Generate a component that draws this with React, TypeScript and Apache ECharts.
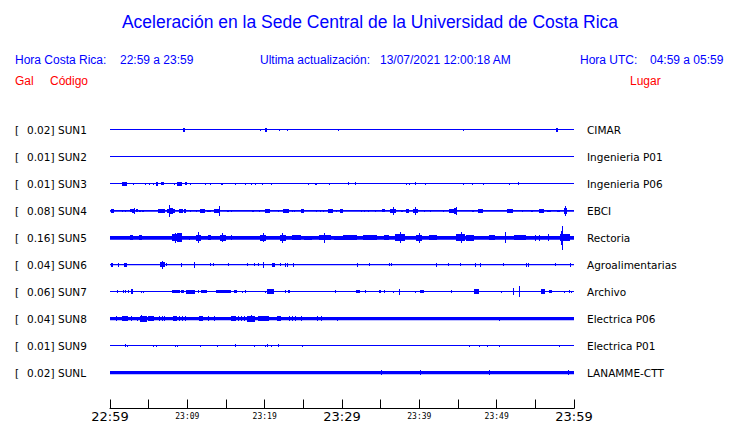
import React, { useEffect, useRef } from "react";
import * as echarts from "echarts";

// ---------------- data ----------------
const stationCodes = ["SUN1", "SUN2", "SUN3", "SUN4", "SUN5", "SUN6", "SUN7", "SUN8", "SUN9", "SUNL"];
const stationPlaces = [
  "CIMAR",
  "Ingenieria P01",
  "Ingenieria P06",
  "EBCI",
  "Rectoria",
  "Agroalimentarias",
  "Archivo",
  "Electrica P06",
  "Electrica P01",
  "LANAMME-CTT",
];
const peakGal = [0.02, 0.01, 0.01, 0.08, 0.16, 0.04, 0.06, 0.04, 0.01, 0.02];
const timeTickLabels = ["22:59", "23:09", "23:19", "23:29", "23:39", "23:49", "23:59"];
const windowMinutes = 60;

// bursts: [minute after 22:59, half amplitude (trace units), duration (minutes)]
const sun1Bursts = [
  [9.57, 1.7, 0.25], [19.4, 1, 0], [20.2, 1.7, 0.25], [21.9, 1.3, 0], [22.9, 1.3, 0],
  [29.5, 1, 0], [45.7, 1, 0], [57.8, 1.7, 0.25],
];
const sun2Bursts: number[][] = [];
const sun3Bursts = [
  [1.9, 1.7, 0.7], [3.06, 1.3, 0], [4.57, 1.3, 0], [5.09, 1, 0], [5.65, 1.3, 0], [6.08, 1.7, 0.3],
  [6.85, 1.5, 0.35], [8.32, 1, 0], [9.05, 1.7, 0.7], [9.83, 1.5, 0.3], [10.39, 1.3, 0], [12.41, 1, 0],
  [13.06, 1.3, 0], [14.53, 1.3, 0.3], [16.29, 1.3, 0], [17.46, 1.3, 0], [18.36, 1, 0], [18.79, 1.3, 0],
  [19.7, 1, 0], [20.82, 1.3, 0], [25.65, 1, 0], [26.64, 1.3, 0.3], [28.36, 1, 0], [30.82, 1.5, 0],
  [31.81, 1.5, 0], [38.32, 1.3, 0], [38.71, 1, 0], [39.44, 1.5, 0], [40.86, 1.3, 0], [45.69, 1.3, 0],
  [46.85, 1, 0], [48.28, 1.3, 0], [51.64, 1, 0], [52.8, 1.5, 0],
];
const sun4Bursts = [
  [0.3, 1.7, 0.43], [1.64, 1, 0], [1.94, 1, 0], [2.67, 1.5, 0.2], [3.02, 2, 0.3], [3.23, 3, 0],
  [3.45, 1.5, 0.2], [3.88, 1, 0.2], [4.31, 1, 0.2], [6.68, 1.7, 0.86], [7.46, 2.3, 0.3], [7.67, 6.3, 0],
  [7.97, 3, 0.4], [8.28, 1.7, 0.2], [9.14, 2.3, 0.5], [9.7, 1.7, 0.3], [10.43, 1, 0], [11.21, 1, 0],
  [11.98, 2.3, 0.7], [12.85, 1.3, 0.5], [13.79, 2.3, 0.6], [14.1, 5, 0], [15.3, 1.3, 0.3], [15.73, 1, 0],
  [18.53, 1.3, 0.3], [19.31, 1, 0], [20.39, 2.3, 0.6], [21.85, 1, 0], [22.76, 2.3, 0.8], [23.62, 1, 0],
  [23.92, 1, 0], [24.83, 1.7, 0.4], [26.72, 1.3, 0], [27.16, 1.3, 0], [27.67, 1, 0], [28.45, 1.7, 0.6],
  [29.31, 1.3, 0], [29.96, 1.7, 0.4], [32.46, 1, 0], [32.85, 1, 0], [33.4, 1, 0], [34.27, 1.3, 0],
  [35.43, 1.5, 0.4], [36.64, 2.3, 0.8], [36.7, 3.7, 0.1], [37.72, 1.3, 0.3], [38.49, 1.7, 0.4],
  [39.44, 2.3, 0.6], [39.5, 4.3, 0], [40.73, 1, 0], [41.38, 1, 0], [43.1, 1, 0], [44.18, 2, 0.6],
  [44.74, 2.7, 0.4], [44.8, 4, 0], [46.9, 1.3, 0.3], [47.93, 1.7, 0.6], [51.72, 1.7, 0.8], [53.32, 1, 0],
  [54.57, 1.3, 0.3], [55.82, 1.7, 0.6], [56.72, 1.3, 0.5], [57.97, 1.3, 0.4], [58.88, 2.7, 0.4],
  [58.9, 5, 0],
];
const sun5Bursts = [
  [2.72, 2.7, 0.4], [3.88, 2.7, 0.4], [8.41, 3.3, 0.8], [8.45, 5, 0.1], [9.05, 4.5, 0.6], [10.26, 2, 0],
  [11.42, 3, 0.6], [11.45, 5.3, 0], [12.93, 2.3, 0.4], [14.57, 3, 0.8], [14.6, 4.7, 0], [15.73, 2.3, 0],
  [16.38, 1.7, 0], [19.74, 3, 0.8], [19.8, 4.7, 0], [22.33, 3, 0.8], [22.36, 5, 0], [24.14, 2.3, 1.2],
  [25.65, 2, 1.0], [27.8, 2.3, 1.5], [27.8, 5, 0], [29.83, 2, 1.8], [31.03, 2.3, 1.8], [33.62, 2.3, 1.8],
  [35.78, 2.3, 0.6], [37.5, 3.3, 1.3], [37.55, 5.3, 0.1], [39.96, 3, 0.8], [39.98, 5, 0], [41.81, 2.3, 1],
  [45.35, 3.3, 1.1], [45.4, 5.3, 0.1], [46.55, 3, 1], [49.35, 2.3, 0.8], [51.16, 5.5, 0], [53.02, 2.3, 1.6],
  [54.96, 3, 0], [55.48, 3, 0], [56.68, 3.3, 0], [58.84, 3.3, 1.3], [58.41, 7, 0.3], [58.45, 12, 0],
];
const sun6Bursts = [
  [0.3, 2, 0.2], [1.16, 2, 0], [2.03, 2, 0.4], [6.81, 2.3, 0.6], [6.85, 4, 0], [7.37, 1.7, 0], [9.31, 2, 0],
  [10.99, 3, 0], [13.06, 1.7, 0], [13.36, 1.7, 0], [15.35, 1.7, 0], [17.8, 1.7, 0], [18.66, 1.7, 0],
  [19.18, 1.7, 0], [19.87, 3, 0], [21.12, 2, 0.4], [22.07, 1.7, 0], [22.67, 2, 0], [22.97, 2, 0],
  [23.79, 2, 0], [32.03, 2, 0], [33.54, 1.7, 0], [36.12, 1.7, 0], [36.42, 1.7, 0], [42.24, 2, 0],
  [43.75, 1.7, 0], [45.26, 1.7, 0], [47.2, 2, 0], [47.85, 2, 0], [50.86, 1.3, 0], [53.88, 2, 0],
  [54.18, 2, 0], [57.55, 1.7, 0], [59.61, 2, 0],
];
const sun7Bursts = [
  [0.99, 1.7, 0], [1.72, 1.7, 0], [2.03, 1.7, 0], [2.37, 1.7, 0], [2.8, 2.3, 0.3], [4.1, 1, 0], [4.31, 1, 0],
  [8.49, 1.7, 1], [9.35, 1.7, 0.4], [10.47, 2, 1.2], [11.42, 1.3, 0], [12.11, 1.7, 0.8], [14.66, 1.7, 1.9],
  [16.29, 1.7, 0.4], [17.11, 1, 0], [17.54, 1.3, 0], [20.17, 1, 0], [20.78, 2.7, 0.9], [22.67, 1.3, 0],
  [23.19, 1.7, 0.3], [29.1, 1.7, 0], [32.11, 1.7, 0.5], [32.98, 1.7, 0], [34.96, 1.7, 0.3], [35.48, 1.3, 0],
  [36.64, 1, 0], [37.46, 3, 0], [39.53, 1, 0], [40.39, 1.7, 0.5], [44.22, 1.7, 0], [47.41, 2.7, 0.7],
  [50.6, 1, 0], [52.2, 3.3, 0], [52.93, 5.3, 0], [56.04, 2.3, 0.5], [56.94, 1.7, 0.4], [58.75, 1, 0],
  [59.4, 1.3, 0], [59.7, 1, 0],
];
const sun8Bursts = [
  [0.86, 2.3, 0], [1.9, 2.7, 0.8], [2.8, 2.3, 0], [3.58, 2, 0], [4.31, 3, 0.9], [4.1, 3.7, 0],
  [5.34, 2.7, 0.8], [6.38, 2.3, 0], [6.77, 2.3, 0], [7.11, 2.7, 0], [8.41, 2.7, 0.5], [9.05, 2.3, 0],
  [9.35, 2.3, 0], [9.78, 2.7, 0], [11.77, 2.7, 0.5], [12.72, 2.3, 0], [13.45, 2.7, 0], [15.95, 2.7, 0.7],
  [16.6, 2.3, 0], [17.03, 2.3, 0], [17.37, 2.3, 0], [18.23, 3, 1.0], [18.3, 3.7, 0], [19.18, 2.3, 0],
  [19.96, 2.7, 1.3], [21.85, 2.7, 0.5], [23.19, 2.3, 0], [23.58, 2.3, 0], [24.01, 2.3, 0], [24.7, 2.3, 0],
  [26.81, 2.3, 0], [27.41, 2.7, 0], [29.4, 2, 0], [50.35, 2, 0],
];
const sun9Bursts = [
  [1.94, 1.7, 0], [2.24, 1, 0], [5.6, 1, 0], [5.95, 1, 0], [8.49, 1, 0], [8.75, 1, 0], [11.68, 1, 0],
  [13.92, 1, 0], [16.29, 1.3, 0], [18.66, 1, 0], [20.17, 1, 0], [20.39, 1.3, 0], [20.82, 1, 0],
  [21.77, 1.3, 0], [24.87, 1, 0], [46.47, 1, 0], [47.76, 1, 0], [48.79, 1, 0], [50.35, 1, 0], [58.1, 1, 0],
];
const sunLBursts = [[35.09, 2.3, 0], [40.13, 2.3, 0], [49.05, 2.3, 0], [59.27, 2.3, 0]];

const burstsByStation = [
  sun1Bursts, sun2Bursts, sun3Bursts, sun4Bursts, sun5Bursts,
  sun6Bursts, sun7Bursts, sun8Bursts, sun9Bursts, sunLBursts,
];

// ---------------- styles ----------------
const BLUE = "#0000ff";
const RED = "#ff0000";
const traceThickness = [1, 1, 1, 1.7, 3.7, 1.3, 1, 3.3, 1, 3.3];
const ROW_SPACING_PX = 27; // trace amplitude units per row
const headerFont = "'Liberation Sans', Arial, sans-serif";

export default function App() {
  const ref = useRef<HTMLDivElement>(null);

  useEffect(() => {
    document.body.style.margin = "0";
    if (!ref.current) return;
    const chart = echarts.init(ref.current, null, { renderer: "svg" });

    const baselineData = stationCodes.map((_, i) => [0, i, traceThickness[i]]);
    const burstData: number[][] = [];
    burstsByStation.forEach((list, row) => {
      list.forEach((b) => burstData.push([b[0], row, b[1], b[2]]));
    });

    const yMax = 10 + 1 / 3;

    const option: any = {
      animation: false,
      backgroundColor: "#ffffff",
      grid: { left: 110, right: 166, top: 103, bottom: 14, containLabel: false },
      xAxis: {
        type: "value",
        min: 0,
        max: windowMinutes,
        interval: 5,
        axisLine: { show: true, onZero: false, lineStyle: { color: "#000", width: 1 } },
        axisTick: { show: true, inside: true, length: 9, lineStyle: { color: "#000", width: 1 } },
        splitLine: { show: false },
        axisLabel: {
          show: true,
          interval: 0,
          margin: 1,
          showMinLabel: true,
          showMaxLabel: true,
          formatter: (v: number) => {
            if (Math.round(v) % 10 !== 0) return "";
            const idx = Math.round(v) / 10;
            const txt = timeTickLabels[idx];
            if (txt === undefined) return "";
            return idx % 3 === 0 ? `{big|${txt}}` : `{small|${txt}}`;
          },
          rich: {
            big: { fontFamily: "'DejaVu Sans'", fontSize: 13, color: "#000", lineHeight: 14 },
            small: { fontFamily: "'DejaVu Sans Mono'", fontSize: 8, color: "#000", lineHeight: 13 },
          },
        },
      },
      yAxis: [
        {
          type: "value",
          inverse: true,
          min: -1,
          max: yMax,
          interval: 1,
          axisLine: { show: false },
          axisTick: { show: false },
          splitLine: { show: false },
          axisLabel: {
            show: true,
            align: "left",
            margin: 95,
            showMinLabel: true,
            showMaxLabel: true,
            formatter: (v: number) => {
              const i = Math.round(v);
              if (i < 0 || i >= stationCodes.length) return "";
              return `{a|[}{b|${peakGal[i].toFixed(2)}]}{c|${stationCodes[i]}}`;
            },
            rich: {
              a: { fontFamily: "'DejaVu Sans'", fontSize: 10.5, color: "#000", width: 12 },
              b: { fontFamily: "'DejaVu Sans'", fontSize: 10.5, color: "#000", width: 31 },
              c: { fontFamily: "'DejaVu Sans'", fontSize: 10.5, color: "#000" },
            },
          },
        },
        {
          type: "value",
          position: "right",
          inverse: true,
          min: -1,
          max: yMax,
          interval: 1,
          axisLine: { show: false },
          axisTick: { show: false },
          splitLine: { show: false },
          axisLabel: {
            show: true,
            align: "left",
            margin: 13,
            fontFamily: "'DejaVu Sans'",
            fontSize: 10.5,
            color: "#000",
            formatter: (v: number) => {
              const i = Math.round(v);
              if (i < 0 || i >= stationPlaces.length) return "";
              return stationPlaces[i];
            },
          },
        },
      ],
      graphic: [
        {
          type: "text",
          left: "center",
          top: 13,
          style: {
            text: "Aceleración en la Sede Central de la Universidad de Costa Rica",
            fill: BLUE,
            font: `17.5px ${headerFont}`,
          },
        },
        { type: "text", x: 15, y: 60, style: { text: "Hora Costa Rica:", fill: BLUE, font: `12px ${headerFont}`, textVerticalAlign: "middle" } },
        { type: "text", x: 120, y: 60, style: { text: "22:59 a 23:59", fill: BLUE, font: `12px ${headerFont}`, textVerticalAlign: "middle" } },
        { type: "text", x: 260, y: 60, style: { text: "Ultima actualización:", fill: BLUE, font: `12px ${headerFont}`, textVerticalAlign: "middle" } },
        { type: "text", x: 380, y: 60, style: { text: "13/07/2021 12:00:18 AM", fill: BLUE, font: `12px ${headerFont}`, textVerticalAlign: "middle" } },
        { type: "text", x: 580, y: 60, style: { text: "Hora UTC:", fill: BLUE, font: `12px ${headerFont}`, textVerticalAlign: "middle" } },
        { type: "text", x: 650, y: 60, style: { text: "04:59 a 05:59", fill: BLUE, font: `12px ${headerFont}`, textVerticalAlign: "middle" } },
        { type: "text", x: 15, y: 81, style: { text: "Gal", fill: RED, font: `12px ${headerFont}`, textVerticalAlign: "middle" } },
        { type: "text", x: 50, y: 81, style: { text: "Código", fill: RED, font: `12px ${headerFont}`, textVerticalAlign: "middle" } },
        { type: "text", x: 630, y: 81, style: { text: "Lugar", fill: RED, font: `12px ${headerFont}`, textVerticalAlign: "middle" } },
      ],
      series: [
        {
          type: "custom",
          name: "traces",
          xAxisIndex: 0,
          yAxisIndex: 0,
          clip: false,
          encode: { x: 0, y: 1 },
          data: baselineData,
          renderItem: (_p: any, api: any) => {
            const row = api.value(1);
            const th = api.value(2);
            const a = api.coord([0, row]);
            const b = api.coord([windowMinutes, row]);
            return {
              type: "rect",
              shape: { x: Math.round(a[0]), y: Math.round(a[1] - th / 2), width: Math.round(b[0] - a[0]), height: th },
              style: { fill: BLUE },
            };
          },
        },
        {
          type: "custom",
          name: "bursts",
          xAxisIndex: 0,
          yAxisIndex: 0,
          clip: false,
          encode: { x: 0, y: 1 },
          data: burstData,
          renderItem: (_p: any, api: any) => {
            const t = api.value(0);
            const row = api.value(1);
            const amp = api.value(2) / ROW_SPACING_PX;
            const dur = api.value(3);
            const top = api.coord([t - dur / 2, row - amp]);
            const bot = api.coord([t + dur / 2, row + amp]);
            const w = Math.max(1, Math.round(bot[0] - top[0]));
            const cx = (top[0] + bot[0]) / 2;
            const y0 = Math.round(top[1]);
            const y1 = Math.round(bot[1]);
            return {
              type: "rect",
              shape: { x: Math.round(cx - w / 2), y: y0, width: w, height: Math.max(1, y1 - y0) },
              style: { fill: BLUE },
            };
          },
        },
      ],
    };

    chart.setOption(option);
    return () => chart.dispose();
  }, []);

  return (
    <div
      ref={ref}
      style={{ position: "fixed", left: 0, top: 0, width: 740, height: 423, background: "#fff" }}
    />
  );
}
